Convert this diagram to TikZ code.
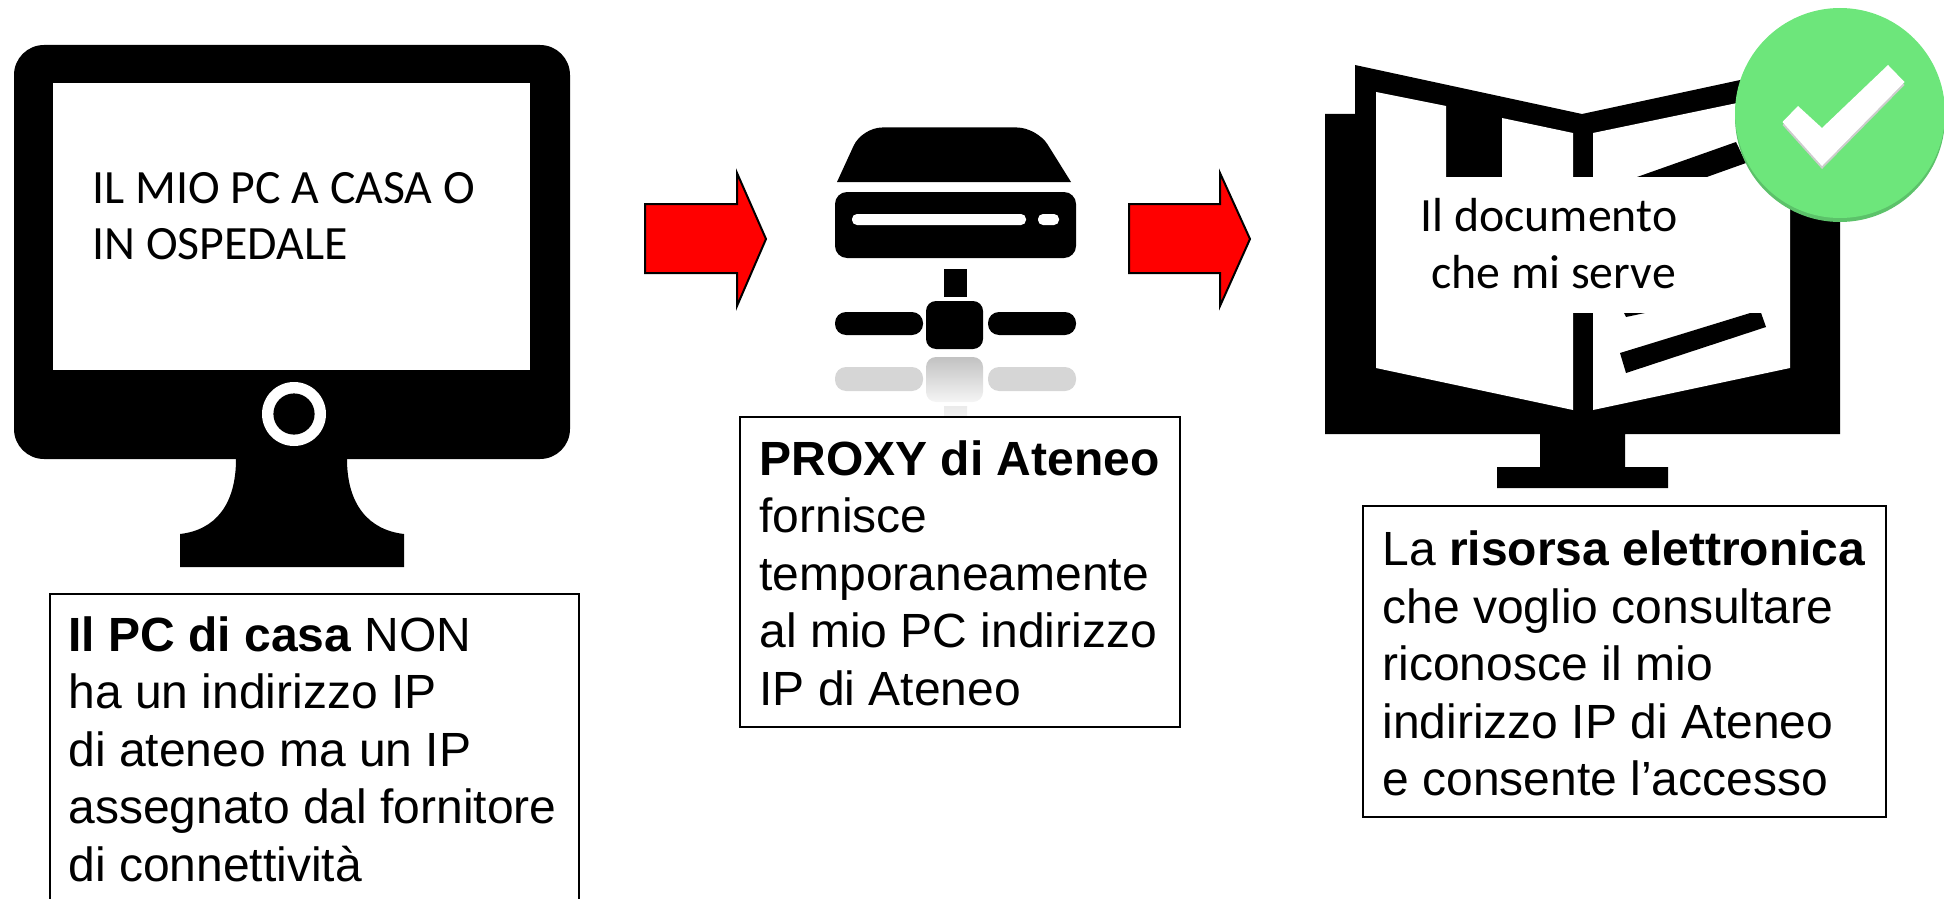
\documentclass[tikz,border=0pt]{standalone}
\usepackage{fontspec}
\setmainfont{Liberation Sans}
\newfontfamily\carlitofont{Carlito}
\usetikzlibrary{shapes.geometric}
\definecolor{okgreen}{HTML}{6DE67B}
\definecolor{okrim}{HTML}{5CC26A}
\tikzset{
  x=0.5pt,y=-0.5pt,
  ink/.style={fill=black,draw=none},
  paper/.style={fill=white,draw=none},
  blockarrow/.style={fill=red,draw=black,line width=1pt,line join=miter},
  infobox/.style={draw=black,fill=white,line width=0.9pt,anchor=north west,inner sep=0pt},
  infotext/.style={anchor=north west,inner sep=0pt,align=left,font=\fontsize{24}{28.75}\selectfont},
  screentext/.style={inner sep=0pt,font=\carlitofont\fontsize{23.9}{28.6}\selectfont},
}
\begin{document}
\begin{tikzpicture}
\useasboundingbox (0,0) rectangle (1944,899);
\clip (0,0) rectangle (1944,899);
% ---------- left monitor
\fill[ink,rounded corners=15pt] (14,45) rectangle (570,459);
\fill[ink] (236,450) -- (236,459) .. controls (236,505) and (215,530) .. (180,534) -- (180,567) -- (404,567) -- (404,534) .. controls (369,530) and (347,505) .. (347,459) -- (347,450) -- cycle;
\fill[paper] (53,83) rectangle (530,370);
\fill[paper] (294,414) circle[radius=16pt];
\fill[ink] (294,414) circle[radius=10.3pt];
\node[screentext,anchor=base west] (pc1) at (92,203) {IL MIO PC A CASA O};
\node[screentext,anchor=base west] (pc2) at (92,259.5) {IN OSPEDALE};
% ---------- left box
\node[infobox,minimum width=264.5pt,minimum height=170pt] (boxpc) at (49,593) {};
\node[infotext] (textpc) at (68,616) {\textbf{Il PC di casa} NON\\ha un indirizzo IP\\di ateneo ma un IP\\assegnato dal fornitore\\di connettività};
% ---------- arrows
\draw[blockarrow] (645,204) -- (737,204) -- (737,173) -- (766,239) -- (737,306) -- (737,273) -- (645,273) -- cycle;
\draw[blockarrow] (1129,204) -- (1220,204) -- (1220,173) -- (1250,239) -- (1220,306) -- (1220,273) -- (1129,273) -- cycle;
% ---------- server
\fill[ink] (837,182) {[rounded corners=10pt] -- (862,127.5) -- (1037,127.5)} -- (1071,182) -- cycle;
\fill[ink,rounded corners=6pt] (835,192) rectangle (1076,258);
\fill[paper,rounded corners=2.5pt] (852,214) rectangle (1026,225);
\fill[paper,rounded corners=2.5pt] (1038,214) rectangle (1059,225);
\fill[ink] (944,269) rectangle (967,297);
\fill[ink,rounded corners=5pt] (926,301) rectangle (983,349);
\fill[ink,rounded corners=5.5pt] (835,312) rectangle (923,335);
\fill[ink,rounded corners=5.5pt] (988,312) rectangle (1076,335);
% reflection
\fill[black!16,rounded corners=5.5pt] (835,367) rectangle (923,391);
\fill[black!16,rounded corners=5.5pt] (988,367) rectangle (1076,391);
\shade[top color=black!24,bottom color=black!4,rounded corners=5pt] (926,357) rectangle (983,402);
\shade[top color=black!8,bottom color=black!3] (944,406) rectangle (967,423);
% ---------- middle box
\node[infobox,minimum width=220pt,minimum height=155pt] (boxproxy) at (739,416) {};
\node[infotext] (textproxy) at (759,440) {\textbf{PROXY di Ateneo}\\fornisce\\temporaneamente\\al mio PC indirizzo\\IP di Ateneo};
% ---------- book monitor
\fill[ink] (1325,114) -- (1355,114) -- (1355,65) -- (1582,114) -- (1810,65) -- (1810,114) -- (1840,114) -- (1840,434) -- (1625,434) -- (1625,467) -- (1668,467) -- (1668,488) -- (1497,488) -- (1497,467) -- (1540,467) -- (1540,434) -- (1325,434) -- cycle;
\fill[paper] (1376,92) -- (1446,106) -- (1446,180) -- (1502,180) -- (1502,118) -- (1573,133) -- (1573,410) -- (1376,368) -- cycle;
\fill[paper] (1593,133) -- (1790,92) -- (1790,368) -- (1593,410) -- cycle;
\fill[ink] (1637,177) -- (1736,142) -- (1746,163) -- (1704,178) -- cycle;
\fill[ink] (1620,353) -- (1626,373) -- (1766,327) -- (1760,310) -- cycle;
\fill[paper] (1376,177) rectangle (1768,313);
\fill[ink] (1624,313) -- (1645,313) -- (1626,317) -- cycle;
\node[screentext,anchor=base west] (doc1) at (1420,231) {Il documento};
\node[screentext,anchor=base west] (doc2) at (1431,288.5) {che mi serve};
% ---------- badge
\fill[okrim] (1840,117) circle[radius=52.5pt];
\fill[okgreen] (1840,113) circle[radius=52.5pt];
\fill[black!20] (1782.5,125) -- (1798,109) -- (1822,131) -- (1888,68) -- (1904.5,85) -- (1822,169) -- cycle;
\fill[white] (1782.5,122) -- (1798,106) -- (1822,128) -- (1888,65) -- (1904.5,82) -- (1822,166) -- cycle;
% ---------- right box
\node[infobox,minimum width=261.5pt,minimum height=155.5pt] (boxres) at (1362,505) {};
\node[infotext] (textres) at (1382,530.5) {La \textbf{risorsa elettronica}\\che voglio consultare\\riconosce il mio\\indirizzo IP di Ateneo\\e consente l’accesso};
\end{tikzpicture}
\end{document}
